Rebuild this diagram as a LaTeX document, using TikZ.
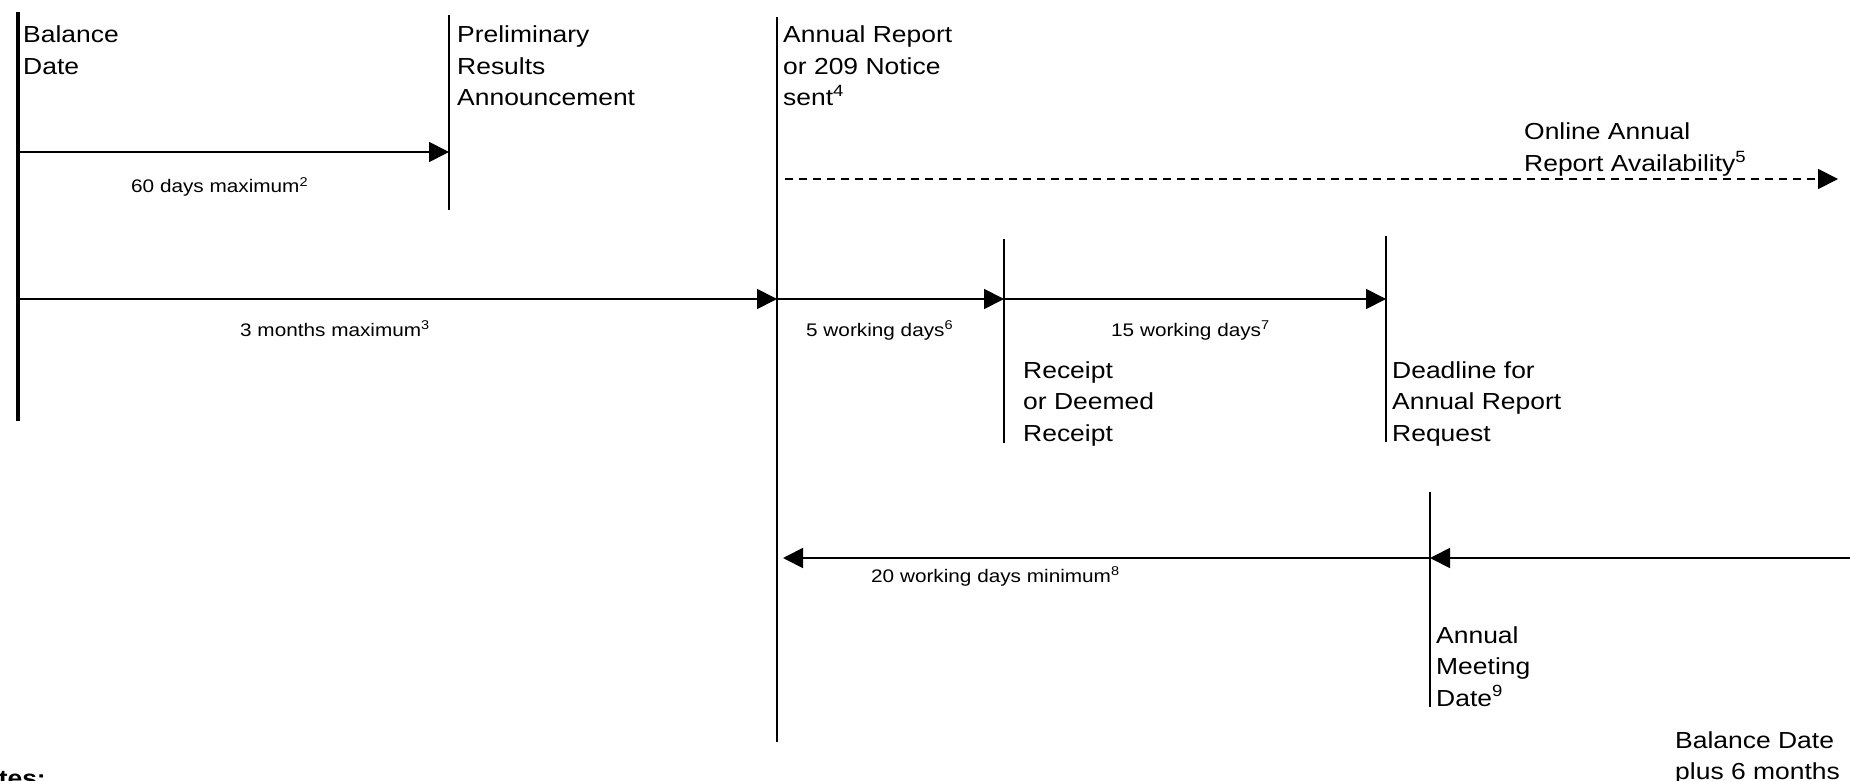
\documentclass[tikz,border=0pt]{standalone}
\usepackage{fontspec}
\setmainfont{Liberation Sans}[FakeStretch=1.14]
\usetikzlibrary{arrows.meta}
\newcommand\ml[1]{\vtop{\baselineskip=31.5pt\halign{##\hfil\cr#1\crcr}}}
\tikzset{
  big/.style={inner sep=0pt, anchor=base west, font=\fontsize{23.2}{31.5}\selectfont},
  small/.style={inner sep=0pt, anchor=base west, font=\fontsize{18.2}{22}\selectfont},
  tick/.style={line width=1.8pt},
  thick tick/.style={line width=4.4pt},
  arr/.style={line width=1.8pt, -{Triangle[length=20pt,width=20pt]}},
  dasharr/.style={arr, dash pattern=on 8pt off 6pt},
}
\begin{document}
\begin{tikzpicture}[x=1pt,y=-1pt]
\useasboundingbox (0,0) rectangle (1850,781);

% vertical event lines
\coordinate (bdT) at (18,12);   \coordinate (bdB) at (18,421);
\coordinate (prT) at (449,15);  \coordinate (prB) at (449,210);
\coordinate (arT) at (777,17);  \coordinate (arB) at (777,742);
\coordinate (rcT) at (1004,239); \coordinate (rcB) at (1004,443);
\coordinate (dlT) at (1386,236); \coordinate (dlB) at (1386,442);
\coordinate (amT) at (1430,492); \coordinate (amB) at (1430,707);

\draw[thick tick] (bdT) -- (bdB);
\draw[tick] (prT) -- (prB);
\draw[tick] (arT) -- (arB);
\draw[tick] (rcT) -- (rcB);
\draw[tick] (dlT) -- (dlB);
\draw[tick] (amT) -- (amB);

% arrow end points
\coordinate (bd60) at (18,152);   \coordinate (pr60) at (449,152);
\coordinate (bd3m) at (18,299);   \coordinate (ar3m) at (777,299);
\coordinate (rc5) at (1004,299);  \coordinate (dl15) at (1386,299);
\coordinate (arOn) at (785,179);  \coordinate (onEnd) at (1838,179);
\coordinate (am20) at (1430,558); \coordinate (ar20) at (783,558);
\coordinate (rEdge) at (1850,558);

\draw[arr] (bd60) -- (pr60);
\draw[arr] (bd3m) -- (ar3m);
\draw[arr] (ar3m) -- (rc5);
\draw[arr] (rc5) -- (dl15);
\draw[dasharr] (arOn) -- (onEnd);
\draw[arr] (am20) -- (ar20);
\draw[arr] (rEdge) -- (am20);

% event labels
\node[big] (lbd) at (23,43) {\ml{Balance\cr Date}};
\node[big] (lpr) at (457,43) {\ml{Preliminary\cr Results\cr Announcement}};
\node[big] (lar) at (783,43) {\ml{Annual Report\cr or 209 Notice\cr sent\textsuperscript{4}}};
\node[big] (lon) at (1524,140) {\ml{Online Annual\cr Report Availability\textsuperscript{5}}};
\node[big] (lrc) at (1023,378) {\ml{Receipt\cr or Deemed\cr Receipt}};
\node[big] (ldl) at (1392,378) {\ml{Deadline for\cr Annual Report\cr Request}};
\node[big] (lam) at (1436,643) {\ml{Annual\cr Meeting\cr Date\textsuperscript{9}}};
\node[big] (lbp) at (1675,748) {\ml{Balance Date\cr plus 6 months}};

% period labels
\node[small] (l60) at (131,193) {60 days maximum\textsuperscript{2}};
\node[small] (l3m) at (240,336) {3 months maximum\textsuperscript{3}};
\node[small] (l5) at (806,336) {5 working days\textsuperscript{6}};
\node[small] (l15) at (1111,336) {15 working days\textsuperscript{7}};
\node[small] (l20) at (871,582) {20 working days minimum\textsuperscript{8}};

% notes heading (cut by the page edge)
\node[big, anchor=base east, font=\fontsize{23.2}{31.5}\selectfont\bfseries] (notes) at (46,786) {Notes:};
\end{tikzpicture}
\end{document}
